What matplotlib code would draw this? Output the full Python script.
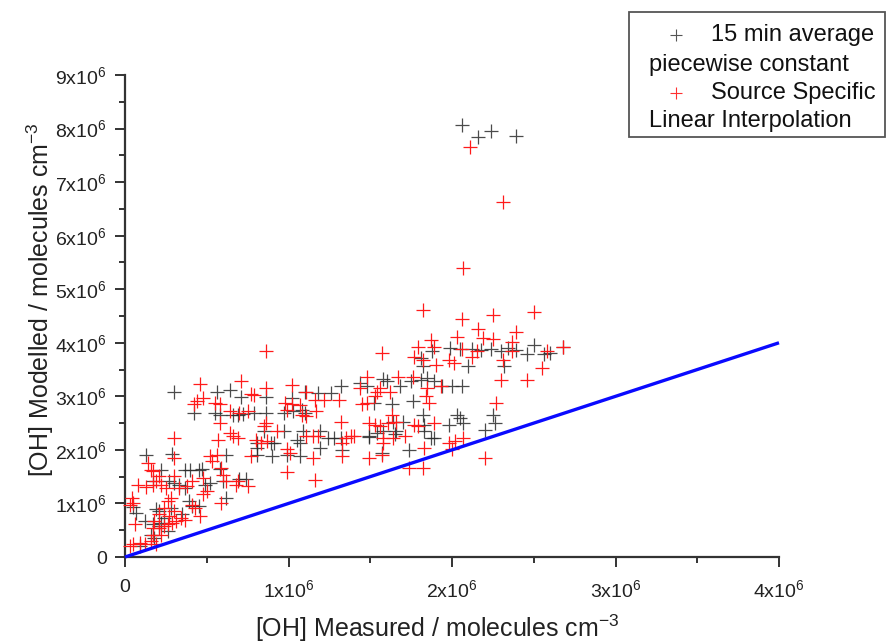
import numpy as np
import matplotlib
matplotlib.use("Agg")
import matplotlib.pyplot as plt
from matplotlib.patches import Rectangle
from matplotlib.lines import Line2D
from matplotlib.ticker import MultipleLocator, FuncFormatter

plt.rcParams['font.family'] = ['Liberation Sans', 'DejaVu Sans']
plt.rcParams['mathtext.fontset'] = 'custom'
plt.rcParams['mathtext.rm'] = 'Liberation Sans'
plt.rcParams['mathtext.default'] = 'regular'

# [OH] values in units of 1e6 molecules cm-3
avg_measured = [
    2.06, 2.16, 2.24, 2.39, 1.81, 1.88, 1.99, 2.05, 2.12, 2.18,
    2.24, 2.30, 2.34, 2.39, 2.46, 2.50, 2.56, 2.60, 2.68, 1.82,
    2.10, 2.32, 1.44, 1.48, 1.58, 1.60, 1.68, 1.75, 1.81, 1.85,
    1.89, 1.94, 2.00, 2.06, 1.32, 1.52, 1.63, 1.76, 1.82, 2.03,
    2.05, 2.25, 2.26, 1.98, 2.07, 1.70, 1.64, 1.83, 2.20, 1.87,
    1.89, 1.83, 1.58, 1.54, 1.49, 1.65, 1.66, 1.74, 1.57, 0.30,
    0.56, 0.64, 0.71, 0.86, 1.02, 1.10, 1.18, 1.26, 0.42, 0.55,
    0.58, 0.66, 0.69, 0.72, 0.79, 0.86, 0.97, 1.03, 1.08, 1.10,
    0.85, 0.97, 1.09, 1.19, 1.05, 1.24, 1.28, 1.32, 1.49, 0.81,
    0.89, 0.91, 1.07, 0.81, 1.19, 0.13, 0.29, 0.62, 0.81, 0.90,
    0.99, 1.07, 1.33, 0.37, 0.40, 0.45, 0.47, 0.58, 0.22, 0.17,
    0.27, 0.30, 0.33, 0.37, 0.49, 0.52, 0.60, 0.70, 0.74, 0.39,
    0.41, 0.45, 0.62, 0.05, 0.07, 0.12, 0.19, 0.21, 0.28, 0.22,
    0.17, 0.21, 0.16, 0.18, 0.09, 0.24, 0.26, 0.35]
avg_modelled = [
    8.06, 7.85, 7.95, 7.87, 3.71, 3.84, 3.90, 3.89, 3.89, 3.87,
    3.89, 3.84, 3.90, 3.87, 3.79, 3.95, 3.79, 3.81, 3.92, 3.56,
    3.56, 3.56, 3.25, 3.19, 3.33, 3.28, 3.19, 3.28, 3.31, 3.34,
    3.28, 3.19, 3.19, 3.19, 3.19, 2.88, 2.85, 2.91, 2.66, 2.66,
    2.60, 2.66, 2.50, 2.47, 2.50, 2.53, 2.53, 2.47, 2.38, 2.22,
    2.22, 2.35, 2.35, 2.32, 2.26, 2.29, 2.35, 1.99, 1.94, 3.08,
    3.09, 3.11, 2.98, 2.98, 2.97, 3.08, 3.06, 3.06, 2.69, 2.69,
    2.66, 2.66, 2.66, 2.67, 2.69, 2.69, 2.69, 2.72, 2.75, 2.69,
    2.35, 2.35, 2.35, 2.35, 2.19, 2.22, 2.22, 2.22, 2.24, 2.13,
    2.13, 2.13, 2.13, 2.04, 2.04, 1.91, 1.93, 1.91, 1.91, 1.88,
    1.91, 1.88, 1.99, 1.62, 1.63, 1.63, 1.65, 1.65, 1.62, 1.42,
    1.42, 1.39, 1.35, 1.29, 1.35, 1.39, 1.42, 1.45, 1.45, 1.04,
    0.95, 0.95, 1.11, 0.93, 0.83, 0.67, 0.89, 0.86, 0.92, 0.64,
    0.61, 0.58, 0.42, 0.36, 0.21, 0.73, 0.48, 0.80]

src_measured = [
    2.11, 2.31, 2.07, 1.82, 2.06, 2.25, 2.50, 2.16, 2.39, 2.19,
    2.25, 2.03, 2.37, 1.87, 1.79, 1.89, 1.57, 2.06, 2.15, 2.37,
    2.58, 2.68, 1.77, 1.82, 1.90, 1.98, 2.01, 2.12, 2.31, 2.55,
    2.46, 2.30, 2.27, 1.84, 1.86, 1.48, 1.67, 1.76, 1.85, 1.93,
    1.44, 1.54, 1.56, 1.62, 1.53, 1.48, 1.45, 1.63, 1.66, 1.77,
    1.79, 1.89, 1.49, 1.53, 1.56, 1.61, 1.71, 1.58, 1.64, 1.58,
    1.83, 1.98, 2.02, 2.07, 2.00, 2.20, 1.74, 1.82, 0.86, 0.46,
    0.71, 1.02, 0.86, 1.11, 1.16, 1.22, 1.31, 0.77, 0.79, 0.48,
    0.44, 0.42, 0.55, 0.58, 0.64, 0.70, 0.75, 0.86, 0.85, 0.98,
    0.99, 1.02, 1.07, 1.08, 1.17, 1.11, 1.32, 1.33, 1.35, 1.38,
    1.40, 1.15, 1.18, 1.11, 0.93, 0.58, 0.64, 0.66, 0.69, 0.57,
    0.80, 0.83, 0.87, 0.30, 0.77, 0.99, 1.01, 1.15, 1.33, 1.49,
    1.57, 0.99, 1.16, 0.52, 0.53, 0.56, 0.30, 0.14, 0.17, 0.21,
    0.30, 0.22, 0.08, 0.13, 0.25, 0.33, 0.38, 0.41, 0.48, 0.50,
    0.48, 0.59, 0.60, 0.62, 0.68, 0.69, 0.75, 0.41, 0.43, 0.46,
    0.59, 0.37, 0.34, 0.31, 0.29, 0.26, 0.24, 0.21, 0.27, 0.21,
    0.18, 0.17, 0.17, 0.16, 0.12, 0.09, 0.05, 0.03, 0.06, 0.04,
    0.03, 0.05, 0.19, 0.22, 0.28, 0.26, 0.24, 0.30, 0.17, 0.19, 0.16]
src_modelled = [
    7.65, 6.62, 5.40, 4.62, 4.45, 4.52, 4.58, 4.26, 4.20, 4.09,
    4.07, 4.10, 4.01, 4.06, 3.93, 3.93, 3.81, 3.88, 3.85, 3.85,
    3.84, 3.92, 3.73, 3.68, 3.59, 3.67, 3.62, 3.73, 3.68, 3.53,
    3.31, 3.31, 2.88, 3.00, 2.88, 3.37, 3.37, 3.37, 3.16, 3.19,
    3.16, 3.09, 3.16, 3.09, 3.00, 2.88, 2.85, 2.66, 2.53, 2.47,
    2.44, 2.50, 2.50, 2.47, 2.44, 2.50, 2.26, 2.22, 2.22, 2.13,
    2.04, 2.13, 2.16, 2.22, 2.01, 1.85, 1.67, 1.67, 3.84, 3.23,
    3.29, 3.22, 3.16, 3.08, 2.94, 2.94, 2.94, 3.04, 3.02, 2.97,
    2.91, 2.85, 2.88, 2.85, 2.72, 2.69, 2.72, 2.50, 2.44, 2.88,
    2.75, 2.85, 2.83, 2.66, 2.72, 2.63, 2.53, 2.13, 2.22, 2.26,
    2.26, 2.26, 2.26, 2.26, 2.35, 2.50, 2.32, 2.26, 2.22, 2.19,
    2.19, 2.13, 2.16, 2.22, 1.88, 2.01, 1.94, 1.85, 1.88, 1.84,
    1.90, 1.59, 1.43, 1.88, 1.79, 1.91, 1.85, 1.76, 1.60, 1.51,
    1.51, 1.35, 1.35, 1.30, 1.29, 1.29, 1.32, 1.42, 1.48, 1.23,
    1.17, 1.67, 1.54, 1.42, 1.35, 1.42, 1.32, 0.98, 0.92, 0.76,
    1.01, 0.70, 0.73, 0.67, 0.64, 0.61, 0.58, 0.55, 0.76, 0.80,
    0.67, 0.55, 0.42, 0.30, 0.24, 0.27, 0.24, 0.21, 0.61, 1.11,
    0.98, 1.01, 0.24, 0.42, 1.11, 1.04, 0.92, 0.86, 1.35, 1.42, 1.63]

one_to_one = [0.0, 4.0]

legend_labels = ["15 min average", "piecewise constant",
                 "Source Specific", "Linear Interpolation"]

scale = 1e6
W, H = 888, 643
fig = plt.figure(figsize=(W / 100, H / 100), dpi=100)
ax = fig.add_axes([125 / W, 1 - 557 / H, (779 - 125) / W, (557 - 75) / H])

black_c = '#2b2b2b'
ax.plot(np.array(avg_measured) * scale, np.array(avg_modelled) * scale,
        linestyle='none', marker='+', ms=10, mew=0.9, color=black_c,
        alpha=0.85, clip_on=False, zorder=3)
ax.plot(np.array(src_measured) * scale, np.array(src_modelled) * scale,
        linestyle='none', marker='+', ms=10, mew=0.9, color='#ff1a1a',
        clip_on=False, zorder=4)
ax.plot(np.array(one_to_one) * scale, np.array(one_to_one) * scale,
        color='#0a0aff', lw=2.4, zorder=5, clip_on=False,
        solid_capstyle='butt')

ax.set_xlim(0, 4e6)
ax.set_ylim(0, 9e6)
for side in ('top', 'right'):
    ax.spines[side].set_visible(False)
for side in ('left', 'bottom'):
    ax.spines[side].set_color('#333333')
    ax.spines[side].set_linewidth(1.6)


def sci_label(v, pos):
    n = int(round(v / scale))
    return '0' if n == 0 else f'{n}x10$^{{6}}$'


ax.xaxis.set_major_locator(MultipleLocator(1e6))
ax.xaxis.set_minor_locator(MultipleLocator(0.5e6))
ax.yaxis.set_major_locator(MultipleLocator(1e6))
ax.yaxis.set_minor_locator(MultipleLocator(0.5e6))
ax.xaxis.set_major_formatter(FuncFormatter(sci_label))
ax.yaxis.set_major_formatter(FuncFormatter(sci_label))
ax.tick_params(which='major', direction='out', length=7, width=1.4,
               color='#333333', labelsize=14, pad=6, labelcolor='#222222')
ax.tick_params(which='minor', direction='out', length=4.5, width=1.4,
               color='#333333')
ax.tick_params(axis='x', which='major', pad=9)

fig.text(437 / W, 1 - 628 / H, '[OH] Measured / molecules cm$^{-3}$',
         ha='center', va='center', fontsize=18, color='#222222')
fig.text(40 / W, 1 - 300 / H, '[OH] Modelled / molecules cm$^{-3}$',
         ha='center', va='center', rotation=90, fontsize=18,
         color='#222222')

# legend box
fig.add_artist(Rectangle((629 / W, 1 - 137 / H), (885 - 629) / W,
                         (137 - 12) / H, transform=fig.transFigure,
                         fill=False, ec='#555555', lw=1.3))
fig.add_artist(Line2D([676 / W], [1 - 35 / H], transform=fig.transFigure,
                      marker='+', ms=8, mew=0.8, color='#555555',
                      linestyle='none'))
fig.add_artist(Line2D([676 / W], [1 - 93 / H], transform=fig.transFigure,
                      marker='+', ms=8, mew=0.8, color='#ff3030',
                      linestyle='none'))
rows = [(711, 35), (649, 65), (711, 93), (649, 121)]
for (px, py), txt in zip(rows, legend_labels):
    fig.text(px / W, 1 - py / H, txt, ha='left', va='center',
             fontsize=17, color='#111111')

fig.savefig('out.png', dpi=100, facecolor='white')
